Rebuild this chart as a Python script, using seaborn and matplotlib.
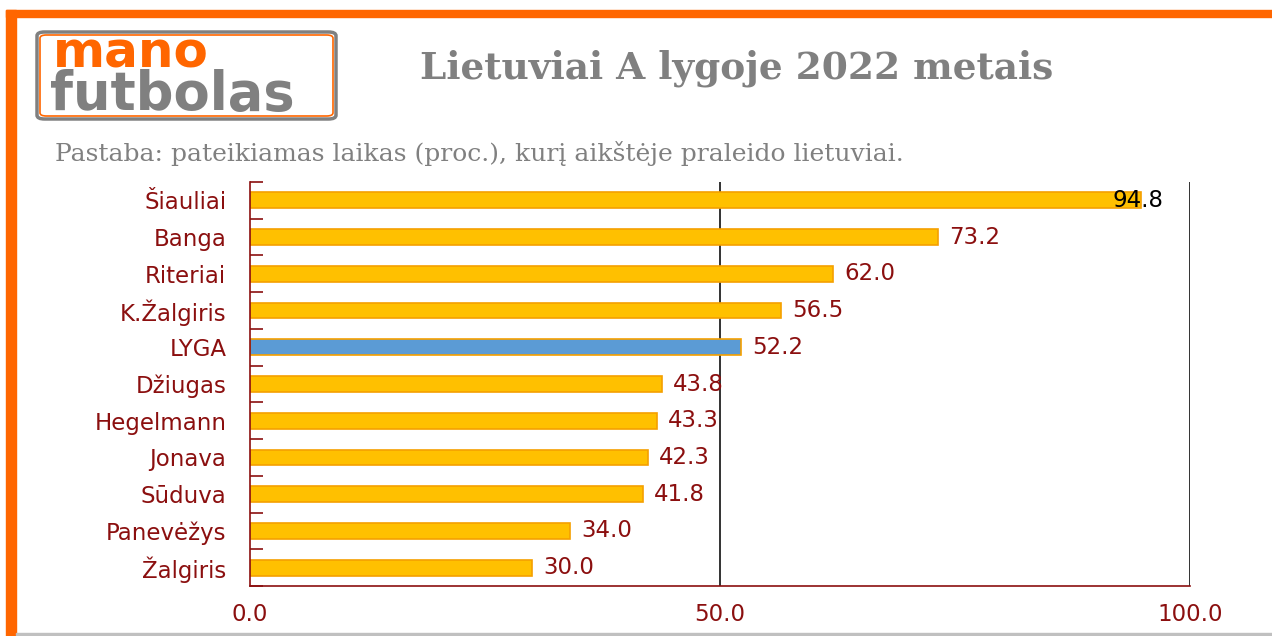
import matplotlib
matplotlib.use("Agg")
import matplotlib.pyplot as plt
from matplotlib.patches import Rectangle, FancyBboxPatch
import pandas as pd
import seaborn as sns

teams = ["Šiauliai", "Banga", "Riteriai", "K.Žalgiris", "LYGA", "Džiugas",
         "Hegelmann", "Jonava", "Sūduva", "Panevėžys", "Žalgiris"]
values = [94.8, 73.2, 62.0, 56.5, 52.2, 43.8, 43.3, 42.3, 41.8, 34.0, 30.0]
highlight = "LYGA"
xticks = [0, 50, 100]

DARK_RED = "#8b0f0f"
GOLD = "#ffc000"
BLUE = "#5b9bd5"
ORANGE = "#ff6600"
GREY = "#808080"
SANS = ["DejaVu Sans"]

df = pd.DataFrame({"team": teams, "value": values})
df["kind"] = ["lyga" if t == highlight else "team" for t in teams]

sns.set_theme(style="white")
plt.rcParams["font.family"] = SANS
plt.rcParams["font.sans-serif"] = SANS

fig = plt.figure(figsize=(12.72, 6.36), dpi=100)
ax = fig.add_axes([0.1965, 0.0786, 0.739, 0.6352])

sns.barplot(data=df, x="value", y="team", hue="kind", orient="h",
            palette={"team": GOLD, "lyga": BLUE}, dodge=False, legend=False,
            saturation=1, width=0.43, edgecolor="#f5a000", linewidth=1.2, ax=ax)

ax.set_xlim(0, 100)
ax.set_ylim(len(teams) - 0.5, -0.5)
ax.set_xlabel("")
ax.set_ylabel("")

# value labels
for i, v in enumerate(values):
    if v > 90:
        ax.text(v - 3.0, i, f"{v:.1f}", va="center", ha="left", fontsize=16.5,
                color="black", family=SANS)
    else:
        ax.text(v + 1.2, i, f"{v:.1f}", va="center", ha="left", fontsize=16.5,
                color=DARK_RED, family=SANS)

ax.axvline(50, color="#222222", lw=1.3, zorder=0)
ax.axvline(100, color="#222222", lw=1.3, zorder=0)

for s in ["top", "right"]:
    ax.spines[s].set_visible(False)
ax.spines["left"].set_color(DARK_RED)
ax.spines["bottom"].set_color(DARK_RED)
ax.spines["left"].set_linewidth(1.2)
ax.spines["bottom"].set_linewidth(1.2)

ax.set_xticks(xticks)
ax.set_xticklabels([f"{t:.1f}" for t in xticks], fontsize=16.5, color=DARK_RED, family=SANS)
ax.tick_params(axis="x", length=0, pad=12)
ax.set_yticks(range(len(teams)))
ax.set_yticklabels(teams, fontsize=16.5, color=DARK_RED, family=SANS)
ax.tick_params(axis="y", which="major", length=0, pad=17)
ax.set_yticks([i - 0.5 for i in range(len(teams) + 1)], minor=True)
ax.tick_params(axis="y", which="minor", direction="in", length=9,
               color=DARK_RED, width=1.2, left=True)

# frame
W, H = 1272, 636
fig.patches.append(Rectangle((6 / W, 1 - 17 / H), 1, 7 / H, transform=fig.transFigure,
                             color=ORANGE, zorder=5))
fig.patches.append(Rectangle((6 / W, 0), 10 / W, 1 - 10 / H, transform=fig.transFigure,
                             color=ORANGE, zorder=5))
fig.patches.append(Rectangle((16 / W, 1 / H), 1, 2 / H, transform=fig.transFigure,
                             color="#c0c0c0", zorder=5))

# logo
fig.patches.append(FancyBboxPatch((37 / W, 1 - 119 / H), 299 / W, 87 / H,
                                  boxstyle="round,pad=0,rounding_size=0.006",
                                  transform=fig.transFigure, fill=False,
                                  edgecolor=GREY, lw=2.5, zorder=6))
fig.patches.append(FancyBboxPatch((40 / W, 1 - 116 / H), 293 / W, 81 / H,
                                  boxstyle="round,pad=0,rounding_size=0.005",
                                  transform=fig.transFigure, fill=False,
                                  edgecolor=ORANGE, lw=1.2, zorder=6))
fig.text(53 / W, 1 - 67 / H, "mano", fontsize=36, fontweight="bold", color=ORANGE,
         family="DejaVu Sans", va="baseline", ha="left")
fig.text(50 / W, 1 - 110 / H, "futbolas", fontsize=38, fontweight="bold", color=GREY,
         family="DejaVu Sans", va="baseline", ha="left")

fig.text(737 / W, 1 - 68 / H, "Lietuviai A lygoje 2022 metais", fontsize=27,
         fontweight="bold", color=GREY, family="DejaVu Serif", ha="center", va="center")
fig.text(55 / W, 1 - 153 / H, "Pastaba: pateikiamas laikas (proc.), kurį aikštėje praleido lietuviai.",
         fontsize=18, color=GREY, family="DejaVu Serif", ha="left", va="center")

fig.savefig("out.png", dpi=100)
